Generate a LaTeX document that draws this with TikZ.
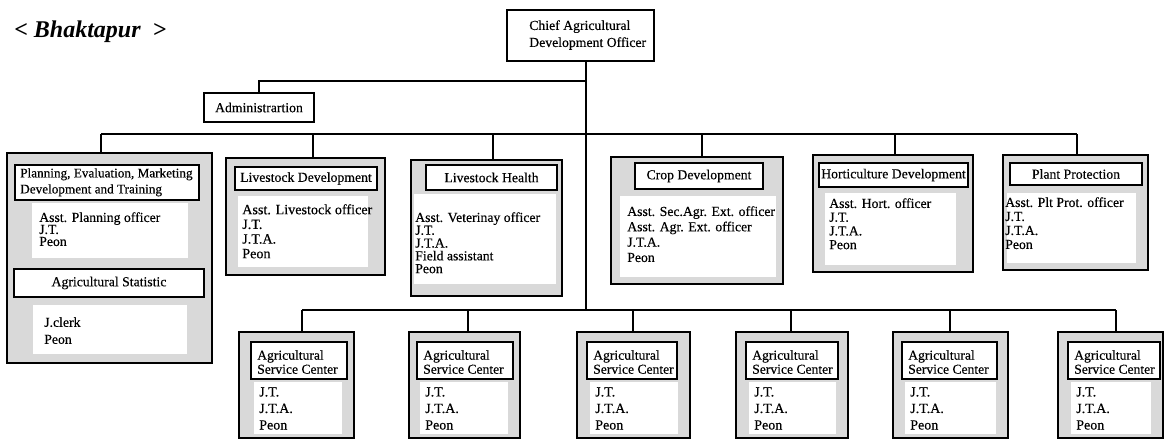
\documentclass[tikz,border=0pt]{standalone}
\usepackage{fontspec}
\setmainfont{Liberation Serif}
\newfontfamily\scanfont{Liberation Serif}[FakeBold=0.35]
\usetikzlibrary{fit}
\definecolor{stip}{gray}{0.85}
\begin{document}
\begin{tikzpicture}[x=0.75pt,y=-0.75pt,
  conn/.style={line width=1.3pt},
  plainbox/.style={draw, line width=1.3pt, fill=white, inner sep=0pt},
  outer/.style={draw, line width=1.3pt, fill=stip, inner sep=0pt},
  hdr/.style={draw, line width=1.7pt, fill=white, inner sep=0pt},
  htxt/.style={inner sep=0pt, font=\scanfont\fontsize{10.3}{12}\selectfont},
  blank/.style={fill=white, inner sep=0pt},
  txt/.style={inner sep=0pt, anchor=north west, align=left}]
\useasboundingbox (0,0) rectangle (1165,440);

% title
\node[inner sep=0pt, anchor=base west, font=\fontsize{18}{20}\selectfont\bfseries\itshape] (title) at (14,37) {<\ Bhaktapur\ \ >};

% chief
\node[plainbox, fit={(507,10)(654,61)}] (chief) {};
\node[txt, font=\scanfont\fontsize{10.3}{12.75}\selectfont] (chieft) at (529,20) {Chief Agricultural\\Development Officer};

% administration
\node[plainbox, fit={(204,93)(314,122)}] (admin) {};
\node[htxt] (admint) at (admin) {Administrartion};

% planning
\node[outer, fit={(7,153)(212,363)}] (plan) {};
\node[blank, fit={(32,203)(188,258)}] (planw1) {};
\node[blank, fit={(33,305)(187,354)}] (planw2) {};
\node[hdr, fit={(15,165)(199,200)}] (planh) {};
\node[txt, font=\scanfont\fontsize{9.9}{12}\selectfont] (planht) at (20,168) {Planning, Evaluation, Marketing\\Development and Training};
\node[txt, font=\scanfont\fontsize{10.3}{9}\selectfont] (planl) at (39,212) {Asst. Planning officer\\J.T.\\Peon};
\node[hdr, fit={(14,269)(204,297)}] (stat) {};
\node[htxt] (statt) at (stat) {Agricultural Statistic};
\node[txt, font=\scanfont\fontsize{10.3}{12.75}\selectfont] (statl) at (44,317) {J.clerk\\Peon};

% livestock development
\node[outer, fit={(226,158)(385,275)}] (ld) {};
\node[blank, fit={(238,196)(368,267)}] (ldw) {};
\node[hdr, fit={(235,167)(377,190)}] (ldh) {};
\node[htxt] (ldt) at (ldh) {Livestock Development};
\node[txt, font=\scanfont\fontsize{10.6}{11}\selectfont] (ldl) at (242,204) {Asst. Livestock officer\\J.T.\\J.T.A.\\Peon};

% livestock health
\node[outer, fit={(411,160)(562,296)}] (lh) {};
\node[blank, fit={(414,194)(556,284)}] (lhw) {};
\node[hdr, fit={(426,165)(557,190)}] (lhh) {};
\node[htxt] (lht) at (lhh) {Livestock Health};
\node[txt, font=\scanfont\fontsize{10.3}{9.6}\selectfont] (lhl) at (415,212) {Asst. Veterinay officer\\J.T.\\J.T.A.\\Field assistant\\Peon};

% crop development
\node[outer, fit={(611,157)(783,284)}] (crop) {};
\node[blank, fit={(620,196)(776,277)}] (cropw) {};
\node[hdr, fit={(635,163)(763,189)}] (croph) {};
\node[htxt] (cropt) at (croph) {Crop Development};
\node[txt, font=\scanfont\fontsize{10.3}{11.5}\selectfont] (cropl) at (627,206) {Asst. Sec.Agr. Ext. officer\\Asst. Agr. Ext. officer\\J.T.A.\\Peon};

% horticulture
\node[outer, fit={(813,155)(973,272)}] (hort) {};
\node[blank, fit={(825,193)(956,265)}] (hortw) {};
\node[hdr, fit={(819,163)(968,187)}] (horth) {};
\node[htxt] (hortt) at (horth) {Horticulture Development};
\node[txt, font=\scanfont\fontsize{10.3}{10.3}\selectfont] (hortl) at (829,198) {Asst. Hort. officer\\J.T.\\J.T.A.\\Peon};

% plant protection
\node[outer, fit={(1003,155)(1148,270)}] (plant) {};
\node[blank, fit={(1007,193)(1136,263)}] (plantw) {};
\node[hdr, fit={(1010,163)(1142,185)}] (planth) {};
\node[htxt] (plantt) at (planth) {Plant Protection};
\node[txt, font=\scanfont\fontsize{10.3}{10.5}\selectfont] (plantl) at (1005,197) {Asst. Plt Prot. officer\\J.T.\\J.T.A.\\Peon};

% agricultural service centers
\newcommand\ascunit[5]{%
  \node[outer, fit={(#2,332)(#3,438)}] (asc#1) {};
  \node[blank, fit={(#4+3,382)(#3-12,434)}] (asc#1w) {};
  \node[hdr, fit={(#4,342)(#5,379)}] (asc#1h) {};
  \node[txt, font=\scanfont\fontsize{10.2}{10.5}\selectfont] (asc#1t) at (#4+6,350) {Agricultural\\Service Center};
  \node[txt, font=\scanfont\fontsize{10.5}{12.4}\selectfont] (asc#1l) at (#4+8,387) {J.T.\\J.T.A.\\Peon};
}
\ascunit{1}{239}{354}{251}{347}
\ascunit{2}{409}{520}{417}{513}
\ascunit{3}{577}{690}{587}{677}
\ascunit{4}{736}{848}{746}{838}
\ascunit{5}{893}{1008}{902}{997}
\ascunit{6}{1058}{1163}{1068}{1160}

% connectors
\coordinate (spine) at (586,0);
\coordinate (admline) at (0,81);
\coordinate (busA) at (0,134);
\coordinate (busB) at (0,310);
\draw[conn] (chief.south -| spine) -- (spine |- busB);
\draw[conn] (spine |- admline) -- (admin.north |- admline) -- (admin.north);

\coordinate (dplan) at (101,134);
\coordinate (dld) at (313,134);
\coordinate (dlh) at (493,134);
\coordinate (dcrop) at (702,134);
\coordinate (dhort) at (895,134);
\coordinate (dplant) at (1077,134);
\draw[conn] (dplan) -- (dplant);
\draw[conn] (dplan) -- (dplan |- plan.north);
\draw[conn] (dld) -- (dld |- ld.north);
\draw[conn] (dlh) -- (dlh |- lh.north);
\draw[conn] (dcrop) -- (dcrop |- crop.north);
\draw[conn] (dhort) -- (dhort |- hort.north);
\draw[conn] (dplant) -- (dplant |- plant.north);

\coordinate (da1) at (302,310);
\coordinate (da2) at (468,310);
\coordinate (da3) at (633,310);
\coordinate (da4) at (791,310);
\coordinate (da5) at (950,310);
\coordinate (da6) at (1116,310);
\draw[conn] (da1) -- (da6);
\draw[conn] (da1) -- (da1 |- asc1.north);
\draw[conn] (da2) -- (da2 |- asc2.north);
\draw[conn] (da3) -- (da3 |- asc3.north);
\draw[conn] (da4) -- (da4 |- asc4.north);
\draw[conn] (da5) -- (da5 |- asc5.north);
\draw[conn] (da6) -- (da6 |- asc6.north);
\end{tikzpicture}
\end{document}
